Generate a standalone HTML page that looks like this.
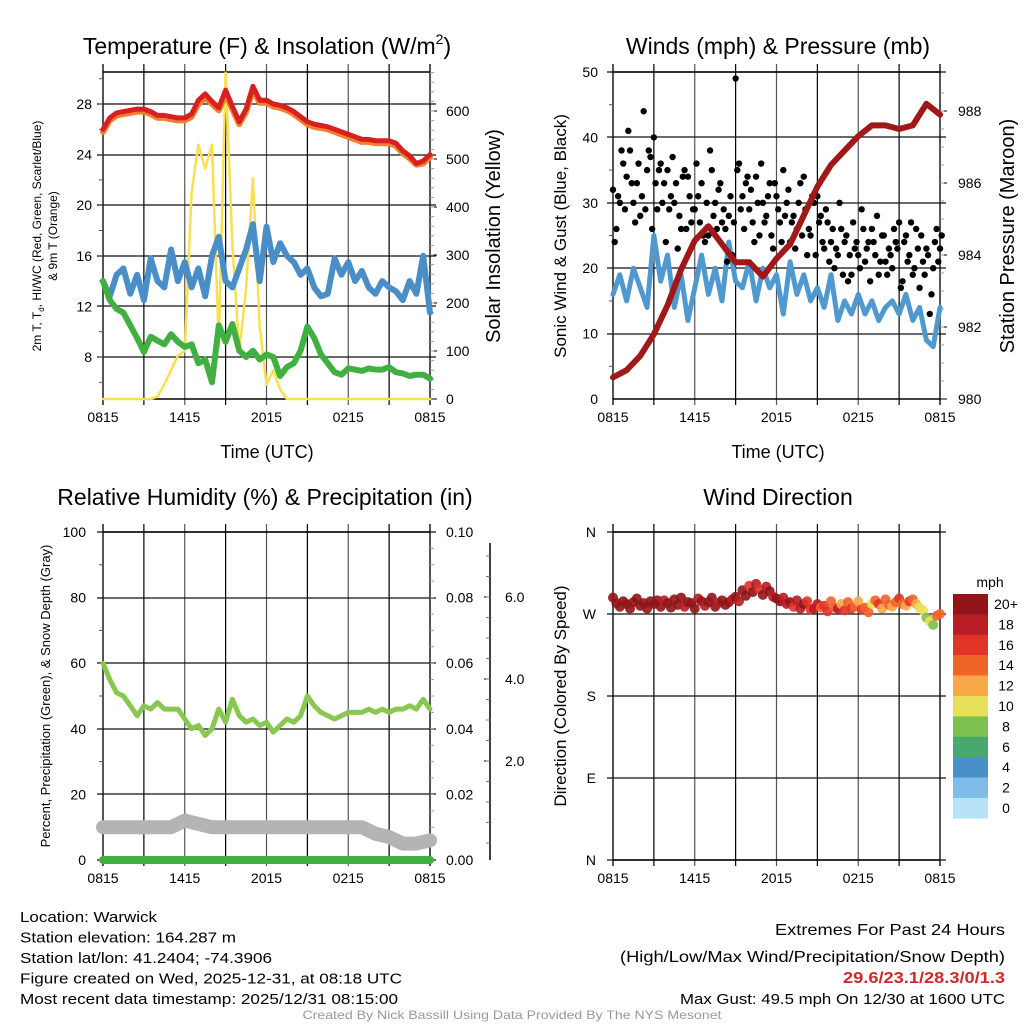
<!DOCTYPE html>
<html><head><meta charset="utf-8"><style>
body{margin:0;background:#fff}
svg{display:block;font-family:"Liberation Sans",sans-serif}
</style></head><body>
<svg id="c" width="1024" height="1024" viewBox="0 0 1024 1024"></svg>
<script>
// ---- data ----
const xTicks = ["0815","1415","2015","0215","0815"];
const tempF = [26.0,26.9,27.3,27.4,27.5,27.6,27.6,27.4,27.1,27.1,27.0,26.9,26.9,27.2,28.3,28.8,28.2,27.7,29.1,27.8,26.6,27.6,29.4,28.3,28.3,28.0,27.9,27.7,27.4,27.0,26.6,26.4,26.3,26.2,26.0,25.8,25.6,25.4,25.2,25.2,25.1,25.1,25.1,24.9,24.3,23.9,23.3,23.5,24.0];
const temp9m = [25.8,26.7,27.1,27.2,27.3,27.4,27.4,27.2,26.9,26.9,26.8,26.7,26.7,27.0,28.0,28.5,28.0,27.5,28.8,27.6,26.4,27.4,29.1,28.1,28.1,27.8,27.7,27.5,27.2,26.8,26.4,26.2,26.1,26.0,25.8,25.6,25.4,25.2,25.0,25.0,24.9,24.9,24.9,24.7,24.1,23.7,23.2,23.3,23.8];
const dewF = [14.0,12.5,11.8,11.5,10.5,9.5,8.4,9.6,9.3,9.0,9.8,9.2,8.8,9.0,7.5,7.8,6.0,10.5,9.2,10.6,8.5,8.0,8.5,7.8,8.2,8.0,6.5,7.2,7.5,8.5,10.4,9.5,8.2,7.5,6.8,6.6,7.1,7.0,6.9,7.1,7.0,7.0,7.2,6.8,6.7,6.5,6.6,6.6,6.3];
const windChill = [14.0,12.8,14.5,15.0,13.0,14.5,12.5,15.8,14.0,13.5,16.5,14.0,15.5,13.5,15.0,12.8,16.0,17.5,14.0,13.5,15.0,16.5,18.5,14.0,18.3,15.5,17.0,16.0,15.5,14.5,15.0,13.5,12.8,13.0,15.8,14.5,15.5,14.0,14.8,13.5,13.0,14.0,13.5,13.2,12.5,14.0,13.0,16.0,11.5];
const solar = [0,0,0,0,0,0,0,0,5,30,60,90,100,430,530,480,530,110,680,320,100,230,460,150,30,60,20,0,0,0,0,0,0,0,0,0,0,0,0,0,0,0,0,0,0,0,0,0,0];
const windSpd = [16,19,15,20,17,14,25,18,22,14,19,12,17,22,16,20,15,24,18,17,21,15,20,17,19,13,21,16,19,15,17,14,19,12,15,13,16,13,15,12,14,15,13,16,12,14,9,8,14];
const gusts = [32,26,30,36,34,38,30,33,28,44,35,37,40,29,36,33,35,31,30,23,26,35,34,27,29,31,33,24,25,35,30,32,27,26,28,22,49,36,31,33,29,27,34,25,30,28,33,23,31,27,35,30,24,28,26,33,34,22,25,30,31,28,23,27,24,20,22,26,24,18,19,23,22,29,21,24,26,22,19,25,21,23,20,24,27,18,25,22,19,26,17,21,23,13,20,26,23];
const gusts2 = [24,31,38,29,41,33,27,36,31,29,38,26,33,35,30,24,29,37,33,28,34,26,31,29,36,27,25,30,38,28,26,33,29,21,31,27,35,29,26,34,32,24,30,36,27,31,25,33,29,24,28,32,27,23,30,25,29,26,31,22,27,24,29,21,26,23,30,19,25,22,27,24,20,26,23,18,24,28,21,25,19,22,26,23,17,24,21,27,20,23,25,19,22,16,24,21,25];
const pressure = [980.6,980.8,981.2,981.8,982.6,983.6,984.4,984.8,984.3,983.8,983.8,983.4,983.9,984.3,985.1,985.9,986.5,986.9,987.3,987.6,987.6,987.5,987.6,988.2,987.9];
const rh = [60,55,51,50,47,44,47,46,48,46,46,46,43,40,41,38,40,46,42,49,44,42,43,41,42,39,41,43,42,44,50,47,45,44,43,44,45,45,45,46,45,46,45,46,46,47,46,49,46];
const snowPct = [10,10,10,10,10,10,12,11,10,10,10,10,10,10,10,10,10,10,10,10,8,7,5,5,6];
const precip = [0,0,0,0,0,0,0,0,0,0,0,0,0,0,0,0,0,0,0,0,0,0,0,0,0];
const windDir = [288,282,278,284,281,276,283,287,279,282,276,284,281,285,278,285,282,277,286,280,288,278,283,282,276,287,284,279,283,288,278,282,285,280,283,286,289,284,296,290,301,294,303,297,291,300,295,289,287,284,288,281,283,278,285,276,281,284,275,276,281,277,279,273,284,277,276,281,274,283,276,278,284,275,277,272,281,285,281,276,286,280,278,283,287,281,279,284,286,281,277,274,266,262,258,268,270];
const dirSpeed = [20,21,22,21,20,22,21,20,22,23,21,20,21,22,20,19,21,20,22,21,20,19,22,21,20,18,21,19,22,20,21,19,20,22,21,18,20,19,21,20,17,22,19,16,20,18,21,19,20,21,18,19,20,17,19,18,20,16,17,19,18,15,16,17,14,15,18,13,16,14,17,15,12,16,14,15,10,14,16,13,15,14,12,15,16,14,13,17,14,12,10,11,8,10,9,14,15];
const cbLabels = ["20+","18","16","14","12","10","8","6","4","2","0"];
const cbColors = ["#901418","#b81c24","#e03428","#f06428","#f8a848","#e8e058","#7cc050","#48a870","#4a90c8","#80bce8","#b8e2f8"];

// ---- helpers ----
const NS="http://www.w3.org/2000/svg", svg=document.getElementById('c');
function mk(tag,at,parent){const e=document.createElementNS(NS,tag);for(const k in at)e.setAttribute(k,at[k]);(parent||svg).appendChild(e);return e;}
function txt(s,x,y,o,parent){o=o||{};const t=mk('text',{x:x,y:y,'font-size':o.fs||14,'text-anchor':o.a||'middle',fill:o.fill||'#000'},parent);if(o.rot)t.setAttribute('transform','rotate('+o.rot+' '+x+' '+y+')');if(o.w){t.setAttribute('textLength',o.w);t.setAttribute('lengthAdjust','spacingAndGlyphs');}if(o.fw)t.setAttribute('font-weight',o.fw);t.textContent=s;return t;}
function lin(d0,d1,r0,r1){return v=>r0+(v-d0)*(r1-r0)/(d1-d0);}
const L=103,R=430,L2=613,R2=940;
function frame(x0,x1,y0,y1,yGrid,name){
  const g=mk('g',{});
  
  
  for(let k=0;k<=8;k++){const x=x0+k*(x1-x0)/8;mk('line',{x1:x,y1:y0-8,x2:x,y2:y1+6,stroke:(k%2?'#000':'#555'),'stroke-width':(k==0||k==8)?2:1.2},g);}
  yGrid.forEach(y=>mk('line',{x1:x0-6,y1:y,x2:x1+6,y2:y,stroke:'#111','stroke-width':1.2},g));
  mk('line',{x1:x0,y1:y0,x2:x1,y2:y0,stroke:'#000','stroke-width':1.5},g);
  mk('line',{x1:x0,y1:y1,x2:x1,y2:y1,stroke:'#000','stroke-width':1.5},g);
  xTicks.forEach((s,i)=>{txt(s,x0+i*(x1-x0)/4,y1+23,{fs:14},g);});
  return g;
}
function path(xs,ys,o,name){const d=xs.map((x,i)=>(i?'L':'M')+x.toFixed(1)+' '+ys[i].toFixed(1)).join(' ');const p=mk('path',{d:d,fill:'none',stroke:o.c,'stroke-width':o.w,'stroke-linejoin':'round','stroke-linecap':'round'});return p;}
const hx=(n,x0,x1)=>i=>x0+i*(x1-x0)/(n-1);

// ---- titles ----
const t1=mk('text',{x:267,y:54,'font-size':23,'text-anchor':'middle'});


t1.innerHTML='Temperature (F) &amp; Insolation (W/m<tspan font-size="14" dy="-10">2</tspan><tspan dy="10">)</tspan>';
txt("Winds (mph) & Pressure (mb)",778,54,{fs:23});
txt("Relative Humidity (%) & Precipitation (in)",265,505,{fs:23});
txt("Wind Direction",778,505,{fs:23});

// ---- panel 1 ----
const yT=lin(28,8,104,357), yS=lin(0,600,399,111);
frame(L,R,72,399,[104,155,205,256,306,357],'temp');
[28,24,20,16,12,8].forEach(v=>txt(String(v),92,yT(v)+5,{a:'end'}));
for(let v=6;v<=30;v+=2)mk('line',{x1:L-4,y1:yT(v),x2:L,y2:yT(v),stroke:'#555'});
[0,100,200,300,400,500,600].forEach(v=>{txt(String(v),446,yS(v)+5,{a:'start'});mk('line',{x1:R,y1:yS(v),x2:R+7,y2:yS(v),stroke:'#000'});});
for(let v=20;v<=680;v+=20)mk('line',{x1:R,y1:yS(v),x2:R+4,y2:yS(v),stroke:'#999'});
txt("Time (UTC)",267,458,{fs:18});
txt("Solar Insolation (Yellow)",500,236,{fs:20,rot:-90});
const lt=mk('text',{'font-size':12,'text-anchor':'middle',transform:'translate(41 236) rotate(-90)'});lt.innerHTML='2m T, T<tspan font-size="8" dy="3">d</tspan><tspan dy="-3">, HI/WC (Red, Green, Scarlet/Blue)</tspan>';
txt("& 9m T (Orange)",57,236,{fs:12,rot:-90});
const x49=hx(49,L,R);
path(solar.map((v,i)=>x49(i)),solar.map(v=>yS(v)),{c:'#f8e050',w:2.5},'solar-line');
path(windChill.map((v,i)=>x49(i)),windChill.map(yT),{c:'#4a8ec8',w:6},'windchill-line');
path(dewF.map((v,i)=>x49(i)),dewF.map(yT),{c:'#40b040',w:6},'dewpoint-line');
path(temp9m.map((v,i)=>x49(i)),temp9m.map(yT),{c:'#f08030',w:6},'temp-9m-line');
path(tempF.map((v,i)=>x49(i)),tempF.map(yT),{c:'#d82020',w:5},'temp-2m-line');

// ---- panel 2 ----
const yW=lin(0,50,399,72), yP=lin(980,988,399,111);
frame(L2,R2,72,399,[72,137,203,268,334],'wind');
[0,10,20,30,40,50].forEach(v=>txt(String(v),598,yW(v)+5,{a:'end'}));
for(let v=5;v<50;v+=10)mk('line',{x1:L2-4,y1:yW(v),x2:L2,y2:yW(v),stroke:'#555'});
[980,982,984,986,988].forEach(v=>{txt(String(v),958,yP(v)+5,{a:'start'});mk('line',{x1:R2,y1:yP(v),x2:R2+7,y2:yP(v),stroke:'#000'});});
for(let v=980.5;v<989;v+=0.5)mk('line',{x1:R2,y1:yP(v),x2:R2+4,y2:yP(v),stroke:'#999'});
txt("Time (UTC)",778,458,{fs:18});
txt("Sonic Wind & Gust (Blue, Black)",566,236,{fs:17,rot:-90});
txt("Station Pressure (Maroon)",1014,236,{fs:20,rot:-90});
const xw=hx(49,L2,R2);
path(windSpd.map((v,i)=>xw(i)),windSpd.map(yW),{c:'#5098d0',w:5},'wind-speed-line');
const xg=hx(97,L2,R2);
gusts.forEach((v,i)=>{const c=mk('circle',{cx:xg(i),cy:yW(v),r:3.2,fill:'#000'});});
gusts2.forEach((v,i)=>{const c=mk('circle',{cx:xg(i)+1.7,cy:yW(v),r:3.2,fill:'#000'});});
const xp=hx(25,L2,R2);
path(pressure.map((v,i)=>xp(i)),pressure.map(yP),{c:'#a01818',w:6},'pressure-line');

// ---- panel 3 ----
const yR=lin(0,100,860,532);
frame(L,R,532,860,[532,598,663,729,794,860],'rh');
[0,20,40,60,80,100].forEach(v=>txt(String(v),86,yR(v)+5,{a:'end'}));
for(let v=10;v<100;v+=20)mk('line',{x1:L-4,y1:yR(v),x2:L,y2:yR(v),stroke:'#555'});
["0.00","0.02","0.04","0.06","0.08","0.10"].forEach((s,i)=>txt(s,446,yR(i*20)+5,{a:'start'}));
for(let v=5;v<100;v+=5)mk('line',{x1:R,y1:yR(v),x2:R+4,y2:yR(v),stroke:'#999'});
mk('line',{x1:490,y1:543,x2:490,y2:860,stroke:'#000','stroke-width':1.5});
["2.0","4.0","6.0"].forEach((s,i)=>{const y=843-(i+1)*82;txt(s,505,y+5,{a:'start'});mk('line',{x1:490,y1:y,x2:484,y2:y,stroke:'#000'});});
for(let y=843;y>545;y-=20.5)mk('line',{x1:490,y1:y,x2:486,y2:y,stroke:'#777'});
txt("Percent, Precipitation (Green), & Snow Depth (Gray)",50,696,{fs:13,rot:-90});
const xs25=hx(25,L,R);
path(snowPct.map((v,i)=>xs25(i)),snowPct.map(yR),{c:'#b4b4b4',w:14},'snow-depth-line');
path(precip.map((v,i)=>xs25(i)),precip.map(yR),{c:'#40b040',w:8},'precip-line');
path(rh.map((v,i)=>x49(i)),rh.map(yR),{c:'#88c850',w:5},'rh-line');

// ---- panel 4 ----
const yD=lin(0,360,860,532);
frame(L2,R2,532,860,[532,614,696,778,860],'dir');
["N","E","S","W","N"].forEach((s,i)=>txt(s,596,yD(i*90)+5,{a:'end'}));
txt("Direction (Colored By Speed)",566,696,{fs:17,rot:-90});
function spColor(s){let k=Math.min(10,Math.floor(s/2));return cbColors[10-k];}
windDir.forEach((d,i)=>{const c=mk('circle',{cx:xg(i),cy:yD(d),r:5,fill:spColor(dirSpeed[i]),'fill-opacity':0.9});});
txt("mph",990,587,{fs:14,a:'middle'});
cbColors.forEach((c,i)=>{const r=mk('rect',{x:953,y:594+i*20.4,width:35,height:20.6,fill:c});txt(cbLabels[i],1006,609+i*20.4,{fs:14});});

// ---- footer ----
[["Location: Warwick",137],["Station elevation: 164.287 m",216],["Station lat/lon: 41.2404; -74.3906",252],["Figure created on Wed, 2025-12-31, at 08:18 UTC",382],["Most recent data timestamp: 2025/12/31 08:15:00",378]].forEach((a,i)=>txt(a[0],20,922+i*20.5,{fs:15,a:'start',w:a[1]}));
txt("Extremes For Past 24 Hours",1005,935,{fs:16,a:'end',w:230});
txt("(High/Low/Max Wind/Precipitation/Snow Depth)",1005,962,{fs:16,a:'end',w:385});
txt("29.6/23.1/28.3/0/1.3",1005,983,{fs:16,a:'end',w:162,fill:'#d02828',fw:'bold'});
txt("Max Gust: 49.5 mph On 12/30 at 1600 UTC",1005,1004,{fs:15,a:'end',w:325});
txt("Created By Nick Bassill Using Data Provided By The NYS Mesonet",512,1019,{fs:12,fill:'#999',w:419});
</script>
</body></html>
